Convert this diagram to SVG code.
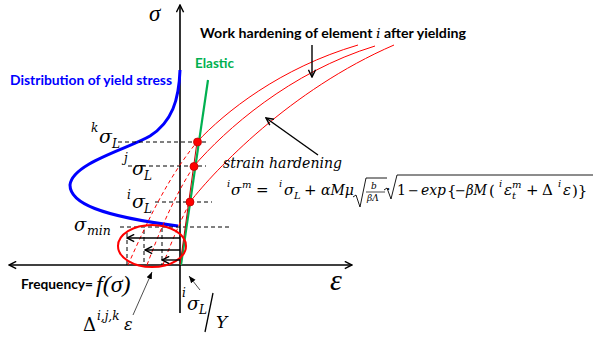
<svg xmlns="http://www.w3.org/2000/svg" width="595" height="340" viewBox="0 0 595 340">
<style>
.lbl{font-family:Lato,"Liberation Sans",Arial,sans-serif;font-weight:bold;font-size:13px}
.m{font-family:"DejaVu Serif","Liberation Serif",serif;font-style:italic}
.mu{font-family:"DejaVu Serif","Liberation Serif",serif;font-style:normal}
.t{font-family:"Liberation Serif","Times New Roman",serif;font-style:italic}
.ax{stroke:#000;stroke-width:1.6;fill:none}
.dash{stroke:#000;stroke-width:1;stroke-dasharray:4,3;fill:none}
.rc{stroke:#ff0000;stroke-width:1;fill:none}
.rd{stroke:#ff0000;stroke-width:1;stroke-dasharray:4,3;fill:none}
.dot{fill:#ff0000;stroke:#c00000;stroke-width:0.8}
.arr{stroke:#000;stroke-width:1.4;fill:none}
.thin{stroke:#000;stroke-width:0.7;fill:none}
</style>
<defs>
<marker id="open" viewBox="0 0 10 10" refX="9" refY="5" markerWidth="9" markerHeight="9" markerUnits="userSpaceOnUse" orient="auto"><path d="M1,1 L9,5 L1,9" fill="none" stroke="#000" stroke-width="1.6"/></marker>
<marker id="fill" viewBox="0 0 10 10" refX="10" refY="5" markerWidth="7" markerHeight="7" markerUnits="userSpaceOnUse" orient="auto"><path d="M0,1 L10,5 L0,9 z" fill="#000"/></marker>
</defs>

<g id="axes">
<line class="ax" x1="180" y1="313" x2="180" y2="5" marker-end="url(#open)"/>
<line class="ax" x1="180" y1="265" x2="9" y2="265" marker-end="url(#open)"/>
<line class="ax" x1="180" y1="265" x2="352" y2="265" marker-end="url(#open)"/>
<text class="t" x="149" y="21" font-size="23">σ</text>
<text class="t" x="330" y="290" font-size="30">ε</text>
</g>

<g id="distribution">
<path d="M180,70 C179,100 172,122 150,136 C130,148 72,163 70,185 C70,203 100,216 178,226" fill="none" stroke="#0000ff" stroke-width="3"/>
<text class="lbl" x="10" y="85" fill="#0000ff" textLength="162" lengthAdjust="spacingAndGlyphs">Distribution of yield stress</text>
</g>

<g id="levels">
<line class="dash" x1="118" y1="142" x2="208" y2="142"/>
<line class="dash" x1="128" y1="166" x2="206" y2="166"/>
<line class="dash" x1="155" y1="202" x2="212" y2="202"/>
<line class="dash" x1="120" y1="227" x2="230" y2="227"/>
<line class="dash" x1="127" y1="233" x2="127" y2="265"/>
<line class="dash" x1="144" y1="230" x2="144" y2="265"/>
<line class="dash" x1="162" y1="228" x2="162" y2="265"/>
</g>

<g id="elastic">
<line x1="181" y1="265" x2="208" y2="80" stroke="#00b050" stroke-width="2.2"/>
<line x1="180" y1="265" x2="197" y2="142" stroke="#c00000" stroke-width="1"/>
<text class="lbl" x="195" y="68" fill="#00b050" textLength="39" lengthAdjust="spacingAndGlyphs">Elastic</text>
</g>

<g id="hardening-curves">
<path class="rd" d="M128,265 C150,215 170,175 197,142"/>
<path class="rd" d="M147,265 C160,230 175,195 194,166"/>
<path class="rd" d="M163,265 C170,245 180,222 190,202"/>
<path class="rc" d="M197,142 C225,112 280,68 358,45"/>
<path class="rc" d="M194,166 C225,130 290,72 375,46"/>
<path class="rc" d="M190,202 C215,170 290,90 394,45"/>
</g>

<g id="yield-points">
<circle class="dot" cx="197.5" cy="142" r="4"/>
<circle class="dot" cx="194" cy="166.5" r="4"/>
<circle class="dot" cx="190" cy="202" r="4"/>
</g>

<g id="ellipse">
<ellipse cx="152" cy="246" rx="34" ry="21" fill="none" stroke="#ff0000" stroke-width="2"/>
</g>

<g id="connectors">
<line class="arr" x1="180" y1="238" x2="127" y2="238" marker-end="url(#open)"/>
<line class="arr" x1="180" y1="250" x2="145" y2="250" marker-end="url(#open)"/>
<line class="arr" x1="180" y1="260" x2="162" y2="260" marker-end="url(#open)"/>
<line class="arr" x1="312" y1="45" x2="312" y2="77" marker-end="url(#open)"/>
<line class="arr" x1="318" y1="155" x2="266" y2="118" marker-end="url(#open)"/>
<line class="thin" x1="133" y1="315" x2="152" y2="272" marker-end="url(#fill)"/>
<line class="thin" x1="200" y1="290" x2="189" y2="276" marker-end="url(#fill)"/>
</g>

<g id="title">
<text class="lbl" x="200" y="38" fill="#000" textLength="266" lengthAdjust="spacingAndGlyphs">Work hardening of element <tspan class="m" font-weight="normal">i</tspan> after yielding</text>
</g>

<g id="sigma-labels">
<text class="m" x="91" y="132" font-size="12">k</text>
<text class="m" x="99" y="143" font-size="19">σ</text>
<text class="m" x="112" y="148" font-size="12">L</text>
<text class="m" x="124" y="162" font-size="12">j</text>
<text class="m" x="132" y="175" font-size="19">σ</text>
<text class="m" x="144" y="180" font-size="12">L</text>
<text class="m" x="127" y="199" font-size="12">i</text>
<text class="m" x="132" y="208" font-size="19">σ</text>
<text class="m" x="144" y="213" font-size="12">L</text>
<text class="m" x="74" y="231" font-size="18">σ</text>
<text class="m" x="87" y="235" font-size="12.5">min</text>
</g>

<g id="strain-label">
<text class="m" x="223" y="168" font-size="14" textLength="119" lengthAdjust="spacingAndGlyphs">strain hardening</text>
</g>

<g id="formula">
<text class="m" x="227" y="187" font-size="10">i</text>
<text class="m" x="231" y="195" font-size="15">σ</text>
<text class="m" x="242" y="188" font-size="10">m</text>
<text class="mu" x="256" y="195" font-size="15">=</text>
<text class="m" x="279" y="187" font-size="10">i</text>
<text class="m" x="284" y="195" font-size="15">σ</text>
<text class="m" x="294" y="199" font-size="10">L</text>
<text class="mu" x="304" y="195" font-size="15">+</text>
<text class="m" x="321" y="195" font-size="15" textLength="33" lengthAdjust="spacingAndGlyphs">αMμ</text>
<path d="M353,197 L356,195 L360,207 L366,178 L387,178" fill="none" stroke="#000" stroke-width="0.9"/>
<text class="m" x="371" y="189" font-size="9">b</text>
<line x1="366" y1="192" x2="385" y2="192" stroke="#000" stroke-width="0.7"/>
<text class="m" x="367" y="201" font-size="9">βΛ</text>
<text class="mu" x="386" y="194" font-size="14">·</text>
<path d="M384,190 L387,188 L391,199 L397,175 L593,175" fill="none" stroke="#000" stroke-width="0.9"/>
<text class="mu" x="397" y="195" font-size="14">1</text>
<text class="mu" x="408" y="195" font-size="13">−</text>
<text class="m" x="421" y="195" font-size="15" textLength="25" lengthAdjust="spacingAndGlyphs">exp</text>
<text class="mu" x="447" y="196" font-size="15">{</text>
<text class="mu" x="455" y="195" font-size="13">−</text>
<text class="m" x="466" y="195" font-size="15" textLength="21" lengthAdjust="spacingAndGlyphs">βM</text>
<text class="mu" x="489" y="196" font-size="15">(</text>
<text class="m" x="499" y="187" font-size="10">i</text>
<text class="m" x="504" y="195" font-size="15">ε</text>
<text class="m" x="512" y="188" font-size="10">m</text>
<text class="m" x="512" y="199" font-size="10">t</text>
<text class="mu" x="526" y="195" font-size="15">+</text>
<text class="mu" x="542" y="195" font-size="15">Δ</text>
<text class="m" x="558" y="187" font-size="10">i</text>
<text class="m" x="563" y="195" font-size="15">ε</text>
<text class="mu" x="572" y="196" font-size="15">)}</text>
</g>

<g id="frequency-label">
<text class="lbl" x="21" y="289" font-size="12" fill="#000" textLength="72" lengthAdjust="spacingAndGlyphs">Frequency=</text>
<text class="t" x="96" y="292" font-size="24">f(σ)</text>
</g>

<g id="delta-label">
<text class="mu" x="83" y="331" font-size="18">Δ</text>
<text class="m" x="97" y="320" font-size="12">i,j,k</text>
<text class="m" x="124" y="330" font-size="16">ε</text>
</g>

<g id="elastic-strain-label">
<text class="m" x="182" y="297" font-size="12">i</text>
<text class="m" x="187" y="310" font-size="18">σ</text>
<text class="m" x="199" y="314" font-size="12">L</text>
<line x1="213" y1="293" x2="205" y2="332" stroke="#000" stroke-width="1.3"/>
<text class="m" x="216" y="328" font-size="17">Y</text>
</g>
</svg>
